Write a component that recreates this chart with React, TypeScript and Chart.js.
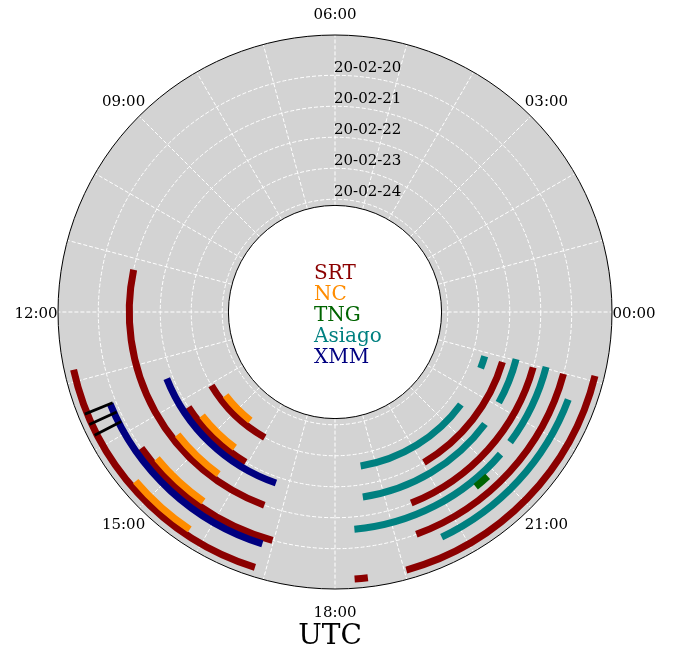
import React, { useEffect, useRef } from 'react';
import { Chart, registerables } from 'chart.js';

Chart.register(...registerables);

// Angular axis: one label per hour, index 0 at the top, going clockwise (time runs counter-clockwise)
const thetaLabels = [
  '06:00', '', '', '03:00', '', '', '00:00', '', '', '21:00', '', '',
  '18:00', '', '', '15:00', '', '', '12:00', '', '', '09:00', '', '',
];
const thetaTopHour = 6;

// Radial axis: day of February 2020 (outer = earlier)
const dateTicks = [20, 21, 22, 23, 24];
const dateTickLabels = ['20-02-20', '20-02-21', '20-02-22', '20-02-23', '20-02-24'];
const rOuterDay = 18.7;
const rInnerDay = 24.2;
const rCenterDay = 27.64;

// Observations: radial position (day), start and end hour (UTC)
const srtR = [19, 20, 21, 22, 23, 19, 19, 20, 21, 22];
const srtStart = [12.83, 14.34, 11.21, 14.2, 14.05, 19.03, 18.28, 19.34, 19.45, 20.04];
const srtEnd = [16.84, 16.98, 16.66, 15.95, 16.05, 23.08, 18.47, 22.99, 22.96, 22.89];

const ncR = [19.2, 20.2, 21.2, 22.2, 23.2];
const ncStart = [14.69, 14.63, 14.53, 14.53, 14.49];
const ncEnd = [15.75, 15.68, 15.62, 15.57, 15.47];

const asiagoR = [19.6, 20.6, 20.6, 21.6, 21.6, 22.6, 22.6];
const asiagoStart = [19.69, 21.56, 18.34, 22.07, 18.57, 22.59, 18.63];
const asiagoEnd = [22.63, 23.03, 21.29, 23.03, 21.55, 22.9, 21.58];

const tngR = [20.4];
const tngStart = [20.59];
const tngEnd = [20.86];

const xmmR = [19.8, 21.8];
const xmmStart = [13.48, 13.44];
const xmmEnd = [16.84, 16.73];

// Short radial markers (hour, from day, to day)
const markHour = [13.48, 13.64, 13.81];
const markFrom = [18.92, 18.92, 18.92];
const markTo = [19.89, 19.89, 19.89];

const legendNames = ['SRT', 'NC', 'TNG', 'Asiago', 'XMM'];
const legendColors = ['#8b0000', '#ff8c00', '#006400', '#008080', '#000080'];

const FONT = '"DejaVu Serif", "Liberation Serif", serif';

const polarPlugin = {
  id: 'polarObs',
  beforeDatasetsDraw(chart: any) {
    const s = chart.scales.r;
    const ctx: CanvasRenderingContext2D = chart.ctx;
    const cx = s.xCenter;
    const cy = s.yCenter;
    const n = thetaLabels.length;
    const rad = (d: number) => s.getDistanceFromCenterForValue(d);
    const ang = (h: number) => s.getIndexAngle(0) - Math.PI / 2 + ((thetaTopHour - h) * 2 * Math.PI) / n;
    const rOut = rad(rOuterDay);
    const rIn = rad(rInnerDay);

    ctx.save();
    // annulus background
    ctx.beginPath();
    ctx.arc(cx, cy, rOut, 0, Math.PI * 2);
    ctx.arc(cx, cy, rIn, 0, Math.PI * 2, true);
    ctx.fillStyle = '#d3d3d3';
    ctx.fill('evenodd');

    // grid
    ctx.strokeStyle = '#ffffff';
    ctx.lineWidth = 1;
    ctx.setLineDash([4, 2]);
    dateTicks.forEach((d) => {
      ctx.beginPath();
      ctx.arc(cx, cy, rad(d), 0, Math.PI * 2);
      ctx.stroke();
    });
    for (let i = 0; i < n; i++) {
      const p0 = s.getPointPosition(i, rIn);
      const p1 = s.getPointPosition(i, rOut);
      ctx.beginPath();
      ctx.moveTo(p0.x, p0.y);
      ctx.lineTo(p1.x, p1.y);
      ctx.stroke();
    }
    ctx.setLineDash([]);

    // spines
    ctx.strokeStyle = '#000000';
    ctx.lineWidth = 1;
    ctx.beginPath();
    ctx.arc(cx, cy, rOut, 0, Math.PI * 2);
    ctx.stroke();
    ctx.beginPath();
    ctx.arc(cx, cy, rIn, 0, Math.PI * 2);
    ctx.stroke();

    // observation arcs
    const drawArcs = (rs: number[], st: number[], en: number[], color: string) => {
      ctx.strokeStyle = color;
      ctx.lineWidth = 7;
      ctx.lineCap = 'butt';
      rs.forEach((d, i) => {
        ctx.beginPath();
        ctx.arc(cx, cy, rad(d), ang(en[i]), ang(st[i]), false);
        ctx.stroke();
      });
    };
    drawArcs(srtR, srtStart, srtEnd, legendColors[0]);
    drawArcs(ncR, ncStart, ncEnd, legendColors[1]);
    drawArcs(asiagoR, asiagoStart, asiagoEnd, legendColors[3]);
    drawArcs(tngR, tngStart, tngEnd, legendColors[2]);
    drawArcs(xmmR, xmmStart, xmmEnd, legendColors[4]);

    // radial markers
    ctx.strokeStyle = '#000000';
    ctx.lineWidth = 2.8;
    markHour.forEach((h, i) => {
      const a = ang(h);
      const r0 = rad(markFrom[i]);
      const r1 = rad(markTo[i]);
      ctx.beginPath();
      ctx.moveTo(cx + r0 * Math.cos(a), cy + r0 * Math.sin(a));
      ctx.lineTo(cx + r1 * Math.cos(a), cy + r1 * Math.sin(a));
      ctx.stroke();
    });

    // angular labels
    ctx.fillStyle = '#000000';
    ctx.font = `15px ${FONT}`;
    ctx.textAlign = 'center';
    ctx.textBaseline = 'alphabetic';
    thetaLabels.forEach((lab, i) => {
      if (!lab) return;
      const p = s.getPointPosition(i, rOut + 22);
      ctx.fillText(lab, p.x, p.y + 5.5);
    });

    // radial labels
    ctx.textAlign = 'left';
    dateTicks.forEach((d, i) => {
      ctx.fillText(dateTickLabels[i], cx - 1, cy - rad(d) - 3);
    });

    // legend text in the centre
    ctx.font = `20px ${FONT}`;
    legendNames.forEach((name, i) => {
      ctx.fillStyle = legendColors[i];
      ctx.fillText(name, cx - 21, cy - 33 + 21 * i);
    });

    // axis title
    ctx.fillStyle = '#000000';
    ctx.font = `28px ${FONT}`;
    ctx.textAlign = 'center';
    ctx.fillText('UTC', cx - 5, cy + 332);
    ctx.restore();
  },
};

export default function App() {
  const ref = useRef<HTMLCanvasElement | null>(null);
  useEffect(() => {
    if (!ref.current) return;
    const chart = new Chart(ref.current, {
      type: 'radar',
      data: { labels: thetaLabels, datasets: [{ data: [], pointRadius: 0, borderWidth: 0 }] },
      options: {
        responsive: false,
        animation: false,
        layout: { padding: { left: 58, top: 35, right: 68, bottom: 59 } },
        plugins: { legend: { display: false }, tooltip: { enabled: false } },
        scales: {
          r: {
            min: rOuterDay,
            max: rCenterDay,
            reverse: true,
            startAngle: 0,
            grid: { display: false },
            angleLines: { display: false },
            pointLabels: { display: false },
            ticks: { display: false },
          },
        },
      },
      plugins: [polarPlugin],
    });
    return () => chart.destroy();
  }, []);
  return (
    <div style={{ position: 'absolute', left: 0, top: 0, width: 680, height: 648, background: '#fff' }}>
      <canvas ref={ref} width={680} height={648} style={{ width: 680, height: 648, display: 'block' }} />
    </div>
  );
}
